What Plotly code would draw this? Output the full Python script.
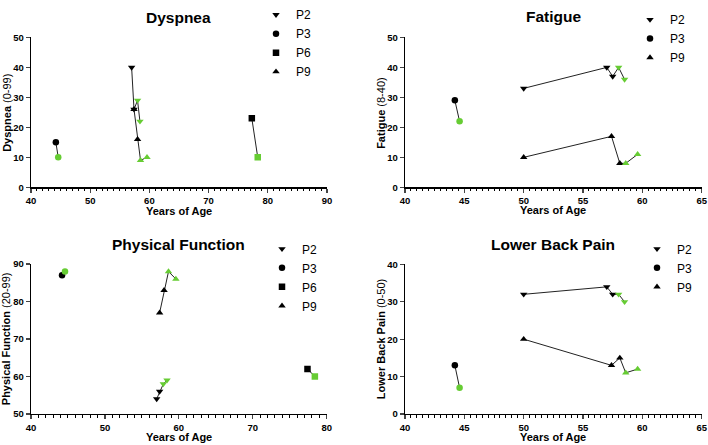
import plotly.graph_objects as go

W, H = 708, 445
GREEN = "#66CC33"
FONT = "Liberation Sans, Arial, sans-serif"

# ---------------- data ----------------
# each patient: (baseline ages, baseline values, follow-up ages, follow-up values)
dyspnea_p2 = ([57.0, 57.4], [40, 26], [58.0, 58.4], [29, 22])
dyspnea_p3 = ([44.2], [15], [44.6], [10])
dyspnea_p6 = ([77.3], [23], [78.3], [10])
dyspnea_p9 = ([57.4, 58.0], [26, 16], [58.5, 59.6], [9, 10])

fatigue_p2 = ([50.0, 57.0, 57.5], [33, 40, 37], [58.0, 58.5], [40, 36])
fatigue_p3 = ([44.2], [29], [44.6], [22])
fatigue_p9 = ([50.0, 57.4, 58.1], [10, 17, 8], [58.6, 59.6], [8, 11])

physical_p2 = ([57.0, 57.4], [54, 56], [57.9, 58.4], [58, 59])
physical_p3 = ([44.2], [87], [44.6], [88])
physical_p6 = ([77.4], [62], [78.4], [60])
physical_p9 = ([57.4, 58.0], [77, 83], [58.6, 59.6], [88, 86])

back_p2 = ([50.0, 57.0, 57.5], [32, 34, 32], [58.0, 58.5], [32, 30])
back_p3 = ([44.2], [13], [44.6], [7])
back_p9 = ([50.0, 57.4, 58.1], [20, 13, 15], [58.6, 59.6], [11, 12])

panel_titles = ["Dyspnea", "Fatigue", "Physical Function", "Lower Back Pain"]
y_titles = ["<b>Dyspnea</b> (0-99)", "<b>Fatigue</b> (8-40)",
            "<b>Physical Function</b> (20-99)", "<b>Lower Back Pain</b> (0-50)"]
x_title = "Years of Age"

x_ranges = [[40, 90], [40, 65], [40, 80], [40, 65]]
y_ranges = [[0, 50], [0, 50], [50, 90], [0, 40]]
x_dticks = [10, 5, 10, 5]
x_minor = [1, 0.5, 1, 0.5]

panels = [
    [("P2", dyspnea_p2), ("P3", dyspnea_p3), ("P6", dyspnea_p6), ("P9", dyspnea_p9)],
    [("P2", fatigue_p2), ("P3", fatigue_p3), ("P9", fatigue_p9)],
    [("P2", physical_p2), ("P3", physical_p3), ("P6", physical_p6), ("P9", physical_p9)],
    [("P2", back_p2), ("P3", back_p3), ("P9", back_p9)],
]

symbols = {"P2": "triangle-down", "P3": "circle", "P6": "square", "P9": "triangle-up"}
MSIZE = 6.5

# ---------------- layout geometry (pixels) ----------------
px_x = [(31, 327), (405, 701.7), (31, 326.7), (405, 701.7)]
px_y = [(29, 182), (29, 182), (260.3, 413.3), (260.7, 413.3)]
title_pos = [(179, 9), (553, 8), (179, 240), (553, 240)]
ytitle_pos = [(7, 106), (381, 106), (6, 337), (381, 337)]
xtitle_pos = [(179, 206), (553, 205), (179, 437), (553, 437)]
legend_pos = [(256, -9), (630, -4), (262, 230), (637, 230)]


def fx(p):
    return p / W


def fy(p):
    return 1 - p / H


fig = go.Figure()
layout = dict(
    width=W, height=H, autosize=False,
    margin=dict(l=0, r=0, t=0, b=0),
    paper_bgcolor="white", plot_bgcolor="white",
    font=dict(family=FONT, color="black"),
    showlegend=True,
    annotations=[],
)

for i, patients in enumerate(panels):
    k = "" if i == 0 else str(i + 1)
    xa, ya = "x" + k, "y" + k
    lg = "legend" + k
    for name, (ba, bv, ga, gv) in patients:
        fig.add_trace(go.Scatter(
            x=list(ba) + list(ga), y=list(bv) + list(gv), mode="lines",
            line=dict(color="#222222", width=1), xaxis=xa, yaxis=ya,
            showlegend=False, hoverinfo="skip"))
        fig.add_trace(go.Scatter(
            x=ba, y=bv, mode="markers", name=name,
            marker=dict(symbol=symbols[name], size=MSIZE, color="black"),
            xaxis=xa, yaxis=ya, legend=lg))
        fig.add_trace(go.Scatter(
            x=ga, y=gv, mode="markers", name=name,
            marker=dict(symbol=symbols[name], size=MSIZE, color=GREEN),
            xaxis=xa, yaxis=ya, showlegend=False))

    x0, x1 = px_x[i]
    y0, y1 = px_y[i]
    layout["xaxis" + k] = dict(
        domain=[fx(x0), fx(x1)], anchor=ya, range=x_ranges[i],
        dtick=x_dticks[i], tick0=40, ticks="outside", ticklen=4, tickwidth=1.2,
        showline=True, linecolor="black", linewidth=1.3, showgrid=False,
        zeroline=False, tickfont=dict(size=9.5, family=FONT, color="black", weight="bold"),
        minor=dict(dtick=x_minor[i], ticks="outside", ticklen=2.5, tickwidth=1,
                   tickcolor="black", showgrid=False),
        automargin=False, fixedrange=True)
    layout["yaxis" + k] = dict(
        domain=[fy(y1), fy(y0)], anchor=xa, range=y_ranges[i], dtick=10,
        ticks="outside", ticklen=4, tickwidth=1.2,
        showline=True, linecolor="black", linewidth=1.3, showgrid=False,
        zeroline=False, tickfont=dict(size=9.5, family=FONT, color="black", weight="bold"),
        automargin=False, fixedrange=True)

    lx, ly = legend_pos[i]
    layout[lg] = dict(
        x=fx(lx), y=fy(ly), xanchor="left", yanchor="top",
        bgcolor="rgba(0,0,0,0)", font=dict(size=12, family=FONT, color="black"),
        itemwidth=30, tracegroupgap=0)

    tx, ty = title_pos[i]
    layout["annotations"].append(dict(
        text="<b>%s</b>" % panel_titles[i], x=fx(tx), y=fy(ty), xref="paper",
        yref="paper", showarrow=False, xanchor="center", yanchor="middle",
        font=dict(size=15.5, family=FONT, color="black")))
    yx, yy = ytitle_pos[i]
    layout["annotations"].append(dict(
        text=y_titles[i], x=fx(yx), y=fy(yy), xref="paper", yref="paper",
        showarrow=False, textangle=-90, xanchor="center", yanchor="middle",
        font=dict(size=11, family=FONT, color="black")))
    xx, xy = xtitle_pos[i]
    layout["annotations"].append(dict(
        text="<b>%s</b>" % x_title, x=fx(xx), y=fy(xy), xref="paper", yref="paper",
        showarrow=False, xanchor="center", yanchor="middle",
        font=dict(size=11, family=FONT, color="black")))

fig.update_layout(**layout)
fig.write_html(
    "out.html",
    config={"displayModeBar": False, "responsive": False, "staticPlot": True},
    post_script=(
        "document.documentElement.style.margin='0';"
        "document.documentElement.style.overflow='hidden';"
        "document.body.style.margin='0';document.body.style.padding='0';"
        "document.body.style.overflow='hidden';"
    ),
)
